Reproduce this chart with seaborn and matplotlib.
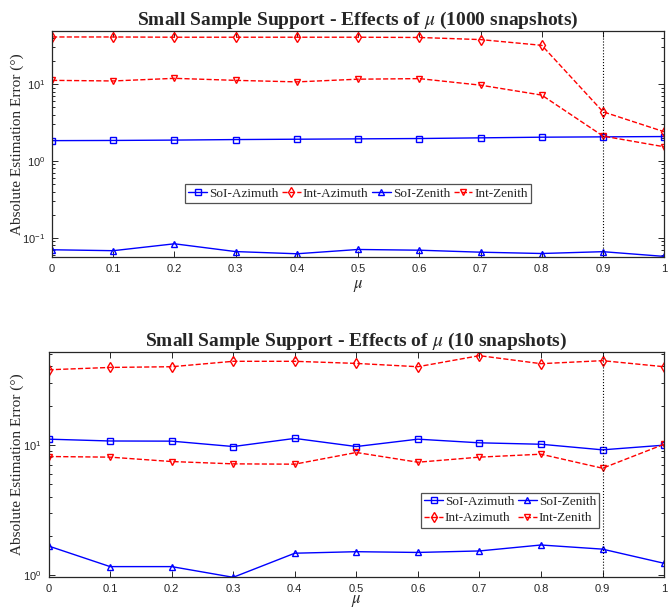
import numpy as np
import pandas as pd
import matplotlib
matplotlib.use('Agg')
import matplotlib.pyplot as plt
import seaborn as sns

mu = [0, 0.1, 0.2, 0.3, 0.4, 0.5, 0.6, 0.7, 0.8, 0.9, 1.0]
mu_labels = ['0', '0.1', '0.2', '0.3', '0.4', '0.5', '0.6', '0.7', '0.8', '0.9', '1']
labels = ['SoI-Azimuth', 'Int-Azimuth', 'SoI-Zenith', 'Int-Zenith']

# 1000 snapshots
soi_az_1000 = [1.84, 1.85, 1.87, 1.90, 1.92, 1.94, 1.96, 2.00, 2.04, 2.06, 2.08]
int_az_1000 = [41.1, 41.1, 40.8, 40.8, 40.8, 40.8, 40.5, 38.0, 32.0, 4.37, 2.40]
soi_zen_1000 = [0.0699, 0.068, 0.0836, 0.0662, 0.062, 0.0705, 0.069, 0.065, 0.0625, 0.066, 0.0573]
int_zen_1000 = [11.2, 11.0, 11.9, 11.2, 10.7, 11.6, 11.8, 9.7, 7.2, 2.11, 1.53]

# 10 snapshots
soi_az_10 = [11.05, 10.7, 10.67, 9.7, 11.2, 9.7, 11.05, 10.36, 10.1, 9.15, 9.94]
int_az_10 = [37.7, 39.3, 39.8, 43.8, 43.8, 42.2, 39.8, 48.4, 42.0, 44.3, 39.8]
soi_zen_10 = [1.67, 1.16, 1.16, 0.96, 1.47, 1.51, 1.49, 1.53, 1.70, 1.58, 1.23]
int_zen_10 = [8.13, 8.04, 7.44, 7.14, 7.10, 8.73, 7.35, 8.04, 8.47, 6.61, 10.1]

sns.set_style('ticks')
plt.rcParams['font.family'] = ['Liberation Serif', 'DejaVu Serif']
plt.rcParams['mathtext.fontset'] = 'stix'

styles = [('blue', '-', 's'), ('red', '--', 'd'), ('blue', '-', '^'), ('red', '--', 'v')]
axcol = '#262626'


def draw(ax, series, title, ylim, leg_ncol, leg_anchor, ylab_x, xlab_pad):
    for vals, lab, (c, ls, m) in zip(series, labels, styles):
        df = pd.DataFrame({'mu': mu, 'err': vals})
        sns.lineplot(data=df, x='mu', y='err', ax=ax, color=c, linestyle=ls,
                     marker=m, markersize=4.8, markerfacecolor='none',
                     markeredgecolor=c, markeredgewidth=1.0, linewidth=1.0,
                     label=lab)
    ax.axvline(0.9, color='k', linestyle=':', linewidth=0.8)
    ax.set_yscale('log')
    ax.set_xlim(0, 1)
    ax.set_ylim(*ylim)
    ax.set_xticks(mu)
    ax.set_xticklabels(mu_labels)
    ax.tick_params(which='both', direction='in', top=True, right=True,
                   color=axcol, labelcolor=axcol, width=0.7)
    ax.tick_params(which='major', length=4, pad=5)
    ax.tick_params(which='minor', length=2.5)
    for t in ax.get_xticklabels() + ax.get_yticklabels():
        t.set_family(['Liberation Sans', 'DejaVu Sans'])
        t.set_fontsize(8)
    ax.set_title(title, fontsize=14, fontweight='bold', pad=4)
    ax.set_xlabel(r'$\mu$', fontsize=12, labelpad=xlab_pad, color=axcol)
    ax.set_ylabel('Absolute Estimation Error (°)', fontsize=11, color=axcol)
    ax.yaxis.set_label_coords(ylab_x, 0.5)
    for s in ax.spines.values():
        s.set_linewidth(0.9)
        s.set_color(axcol)
    leg = ax.legend(ncol=leg_ncol, loc='center', bbox_to_anchor=leg_anchor,
                    fontsize=9.5, frameon=True, fancybox=False, edgecolor=axcol,
                    handlelength=1.4, handletextpad=0.15, columnspacing=0.3,
                    borderpad=0.25, labelspacing=0.3, borderaxespad=0)
    leg.get_frame().set_linewidth(0.9)


fig = plt.figure(figsize=(6.72, 6.10), dpi=100)
ax1 = fig.add_axes([0.0774, 0.579, 0.911, 0.370])
ax2 = fig.add_axes([0.0722, 0.0536, 0.916, 0.370])

draw(ax1, [soi_az_1000, int_az_1000, soi_zen_1000, int_zen_1000],
     r'Small Sample Support - Effects of $\mu$ (1000 snapshots)',
     (0.0566, 49), 4, (0.50, 0.279), -0.046, 3)
draw(ax2, [soi_az_10, int_az_10, soi_zen_10, int_zen_10],
     r'Small Sample Support - Effects of $\mu$ (10 snapshots)',
     (0.96, 52), 2, (0.75, 0.298), -0.040, -1)

fig.savefig('out.png', dpi=100)
